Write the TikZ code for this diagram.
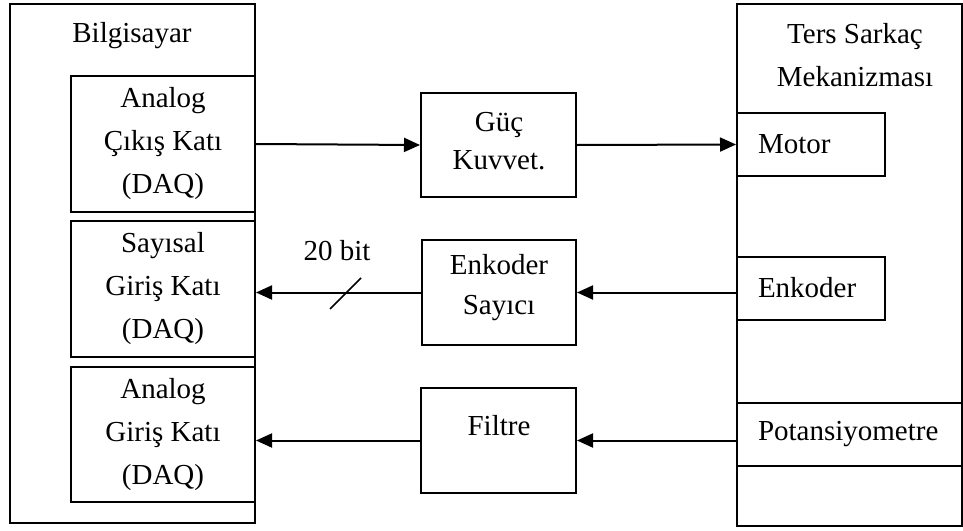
\documentclass[tikz,border=0pt]{standalone}
\usepackage{fontspec}
\setmainfont{Liberation Serif}
\usetikzlibrary{arrows.meta}
\begin{document}
\begin{tikzpicture}[x=1pt,y=-1pt,
  font=\fontsize{29}{43}\selectfont,
  box/.style={draw,line width=2pt,inner sep=0pt,align=center},
  lbox/.style={draw,line width=2pt,inner ysep=0pt,inner xsep=21pt,align=left,minimum height=63pt},
  txt/.style={inner sep=0pt,align=center},
  conn/.style={line width=2pt,-{Triangle[length=16pt,width=14pt]}}]
\useasboundingbox (0,0) rectangle (963,530);
% left: computer
\node[box,minimum width=245pt,minimum height=519pt] (pc) at (132.5,263.5) {};
\node[txt] (pclab) at (132,36) {Bilgisayar};
\node[box,minimum width=184pt,minimum height=136pt] (aout) at (163,144) {Analog\\Çıkış Katı\\(DAQ)};
\node[box,minimum width=184pt,minimum height=136pt] (din) at (163,289) {Sayısal\\Giriş Katı\\(DAQ)};
\node[box,minimum width=184pt,minimum height=135pt] (ain) at (163,434.5) {Analog\\Giriş Katı\\(DAQ)};
% right: mechanism
\node[box,minimum width=225pt,minimum height=522pt] (mech) at (849.5,265) {};
\node[txt] (mechlab) at (855,55) {Ters Sarkaç\\Mekanizması};
\node[lbox,text width=106pt] (motor) at (811,144.5) {Motor};
\node[lbox,text width=106pt] (encR) at (811,288) {Enkoder};
\node[lbox,text width=183pt] (pot) at (849.5,434.5) {Potansiyometre};
% middle
\node[box,minimum width=155pt,minimum height=104pt] (guc) at (498.5,145) {};
\node[txt,font=\fontsize{29}{38}\selectfont] (gucT) at (499,141) {Güç\\Kuvvet.};
\node[box,minimum width=154pt,minimum height=105pt] (encS) at (499,292.5) {};
\node[txt,font=\fontsize{29}{40}\selectfont] (encST) at (499,288) {Enkoder\\Sayıcı};
\node[box,minimum width=155pt,minimum height=105pt] (fil) at (498.5,440.5) {};
\node[txt] (filT) at (499,426) {Filtre};
% connectors
\draw[conn] (aout.east) -- (guc.west);
\draw[conn] (guc.east) -- (motor.west);
\draw[conn] (encR.west |- encS.east) -- (encS.east);
\draw[conn] (encS.west) -- (din.east |- encS.west);
\draw[conn] (pot.west |- fil.east) -- (fil.east);
\draw[conn] (fil.west) -- (ain.east |- fil.west);
% bus width mark
\coordinate (s1) at (330,309);
\coordinate (s2) at (361,278);
\draw[line width=1.5pt] (s1) -- (s2);
\node[txt] (bits) at (337,251) {20 bit};
\end{tikzpicture}
\end{document}
